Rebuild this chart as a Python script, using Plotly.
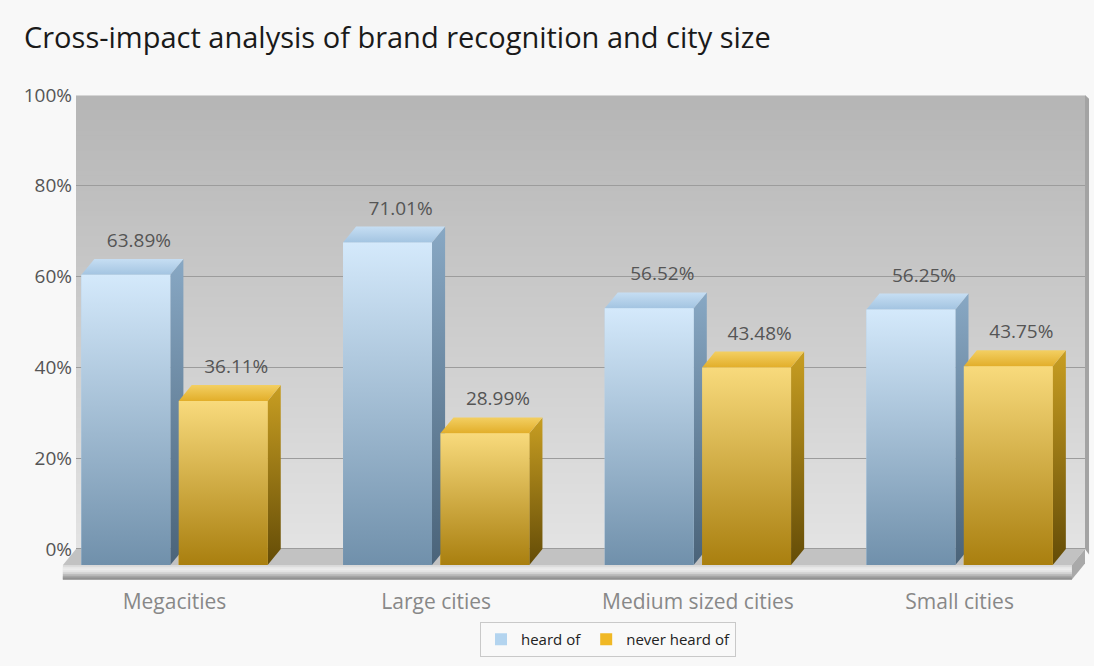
import plotly.graph_objects as go

# ---- data -------------------------------------------------------------
categories = ["Megacities", "Large cities", "Medium sized cities", "Small cities"]
heard_of = [63.89, 71.01, 56.52, 56.25]
never_heard_of = [36.11, 28.99, 43.48, 43.75]
series_names = ["heard of", "never heard of"]
y_tick_values = [0, 20, 40, 60, 80, 100]
y_tick_labels = ["0%", "20%", "40%", "60%", "80%", "100%"]

# ---- page / plot-area geometry ---------------------------------------
W, H = 1094, 666
M_L, M_R, M_T, M_B = 76, 9, 95, 86
X_RANGE = [-0.3764, 3.4792]
Y_RANGE = [-6.83, 100]

# pseudo-3D bar geometry (in axis units)
BAR_W = 0.34      # width of a bar's front face
OFFSET = 0.186    # distance of each bar centre from its category centre
DX = 0.05         # horizontal depth shift
DY = 3.5          # vertical depth shift
SLAB = 3.2        # thickness of the floor slab

FONT = "Open Sans"


def hex_to_rgb(h):
    h = h.lstrip("#")
    return tuple(int(h[i:i + 2], 16) for i in (0, 2, 4))


def mix(c0, c1, t):
    a, b = hex_to_rgb(c0), hex_to_rgb(c1)
    return "rgb(%d,%d,%d)" % tuple(round(a[k] + (b[k] - a[k]) * t) for k in range(3))


def px(x):
    """x data value -> paper fraction"""
    return (x - X_RANGE[0]) / (X_RANGE[1] - X_RANGE[0])


def py(y):
    """y data value -> paper fraction"""
    return (y - Y_RANGE[0]) / (Y_RANGE[1] - Y_RANGE[0])


def path(points):
    return "M " + " L ".join("%.5f,%.5f" % (px(x), py(y)) for x, y in points) + " Z"


styles = {
    "heard of": dict(
        legend="#b3d4ef",
        front=[[0, "#7090ab"], [1, "#d4e9fb"]],
        side=[[0, "#4a6379"], [1, "#88a8c4"]],
        top=[[0, "#a3c4e1"], [1, "#c6def3"]],
    ),
    "never heard of": dict(
        legend="#f0b825",
        front=[[0, "#a97f0f"], [1, "#f8da7c"]],
        side=[[0, "#644c07"], [1, "#c89e22"]],
        top=[[0, "#e2ae2a"], [1, "#f3cf62"]],
    ),
}

fig = go.Figure()

series_values = [heard_of, never_heard_of]
offsets = [-OFFSET, OFFSET]

# flat front faces (also provide the legend swatches)
for name, vals, off in zip(series_names, series_values, offsets):
    fig.add_trace(go.Bar(
        name=name,
        x=[i + off for i in range(len(categories))],
        y=vals,
        base=-DY,
        width=BAR_W,
        marker=dict(color=styles[name]["legend"], line=dict(width=0)),
        hoverinfo="skip",
    ))


def face(xs, ys, scale, y0, y1):
    fig.add_trace(go.Scatter(
        x=xs, y=ys, mode="lines", fill="toself",
        line=dict(width=0),
        fillgradient=dict(type="vertical", colorscale=scale, start=y0, stop=y1),
        hoverinfo="skip", showlegend=False,
    ))


# shaded faces of every bar
for i in range(len(categories)):
    for name, vals, off in zip(series_names, series_values, offsets):
        v = vals[i]
        st = styles[name]
        x0 = i + off - BAR_W / 2
        x1 = i + off + BAR_W / 2
        face([x1, x1 + DX, x1 + DX, x1, x1], [-DY, 0, v, v - DY, -DY], st["side"], -DY, v)
        face([x0, x1, x1 + DX, x0 + DX, x0], [v - DY, v - DY, v, v, v - DY], st["top"], v - DY, v)
        face([x0, x1, x1, x0, x0], [-DY, -DY, v - DY, v - DY, -DY], st["front"], -DY, v - DY)

# value labels above each bar
for name, vals, off in zip(series_names, series_values, offsets):
    fig.add_trace(go.Scatter(
        x=[i + off + DX for i in range(len(categories))],
        y=[v + 3.7 for v in vals],
        mode="text",
        text=["%.2f%%" % v for v in vals],
        textposition="middle center",
        textfont=dict(family=FONT, size=19, color="#555555"),
        hoverinfo="skip", showlegend=False,
    ))

shapes = []

# back wall: vertical grey gradient; each band runs up to the top edge and
# is overlapped by the next one, so no seams appear between bands
N_BANDS = 90
for k in range(N_BANDS):
    y0 = 100 * k / N_BANDS
    shapes.append(dict(
        type="rect", xref="paper", yref="paper", layer="below",
        x0=0, x1=1, y0=py(y0), y1=py(100),
        fillcolor=mix("#e3e3e3", "#b5b5b5", (k + 0.5) / N_BANDS),
        line=dict(width=0),
    ))
# faint highlight along the wall's top edge
shapes.append(dict(
    type="line", xref="paper", yref="paper", layer="below",
    x0=0, x1=1, y0=py(100) - 0.001, y1=py(100) - 0.001,
    line=dict(color="#d6d6d6", width=1),
))

# right edge of the back wall
shapes.append(dict(
    type="path", xref="paper", yref="paper", layer="below",
    path="M 1,%.5f L 1.004,%.5f L 1.004,%.5f L 1,%.5f Z" % (py(100), py(99.2), py(-1.2), py(0)),
    fillcolor="#a3a3a3", line=dict(width=0),
))

xl, xr = X_RANGE

# floor: top surface
shapes.append(dict(
    type="path", xref="paper", yref="paper", layer="between",
    path=path([(xl, 0), (xr, 0), (xr - DX, -DY), (xl - DX, -DY)]),
    fillcolor="#c2c2c2", line=dict(width=0),
))
# floor: front face, shaded in bands
slab_cols = ["#d9d9d9", "#e6e6e6", "#ececec", "#e4e4e4", "#d2d2d2", "#bdbdbd", "#a6a6a6", "#929292"]
nb = len(slab_cols)
for k, col in enumerate(slab_cols):
    ya = -DY - SLAB * k / nb
    shapes.append(dict(
        type="rect", xref="paper", yref="paper", layer="between",
        x0=px(xl - DX), x1=px(xr - DX), y0=py(-DY - SLAB), y1=py(ya),
        fillcolor=col, line=dict(width=0),
    ))
# floor: right-hand end
shapes.append(dict(
    type="path", xref="paper", yref="paper", layer="between",
    path=path([(xr - DX, -DY), (xr, 0), (xr, -SLAB), (xr - DX, -DY - SLAB)]),
    fillcolor="#a9a9a9", line=dict(width=0),
))

fig.update_layout(
    width=W, height=H,
    margin=dict(l=M_L, r=M_R, t=M_T, b=M_B, autoexpand=False),
    paper_bgcolor="#f8f8f8",
    plot_bgcolor="rgba(0,0,0,0)",
    barmode="overlay",
    showlegend=True,
    title=dict(
        text="Cross-impact analysis of brand recognition and city size",
        x=24 / W, xanchor="left", xref="container",
        y=1 - 38 / H, yanchor="middle", yref="container",
        font=dict(family=FONT, size=29, color="#1a1a1a"),
    ),
    xaxis=dict(
        range=X_RANGE, showgrid=False, zeroline=False, showline=False,
        tickmode="array", tickvals=list(range(len(categories))), ticktext=categories,
        tickfont=dict(family=FONT, size=21, color="#888888"),
        ticks="", ticklabelstandoff=7, fixedrange=True,
    ),
    yaxis=dict(
        range=Y_RANGE, showgrid=True, gridcolor="#9c9c9c", gridwidth=1,
        zeroline=False, showline=False,
        tickmode="array", tickvals=y_tick_values, ticktext=y_tick_labels,
        tickfont=dict(family=FONT, size=19, color="#555555"),
        ticks="", ticklabelstandoff=3, fixedrange=True,
    ),
    legend=dict(
        orientation="h", x=(608 - M_L) / (W - M_L - M_R), xanchor="center",
        y=-(622 - (H - M_B)) / (H - M_T - M_B), yanchor="top",
        bgcolor="#f9f9f9", bordercolor="#c9c9c9", borderwidth=1,
        font=dict(family=FONT, size=15, color="#222222"),
        itemclick=False, itemdoubleclick=False,
    ),
    shapes=shapes,
)

fig.write_html("out.html")
